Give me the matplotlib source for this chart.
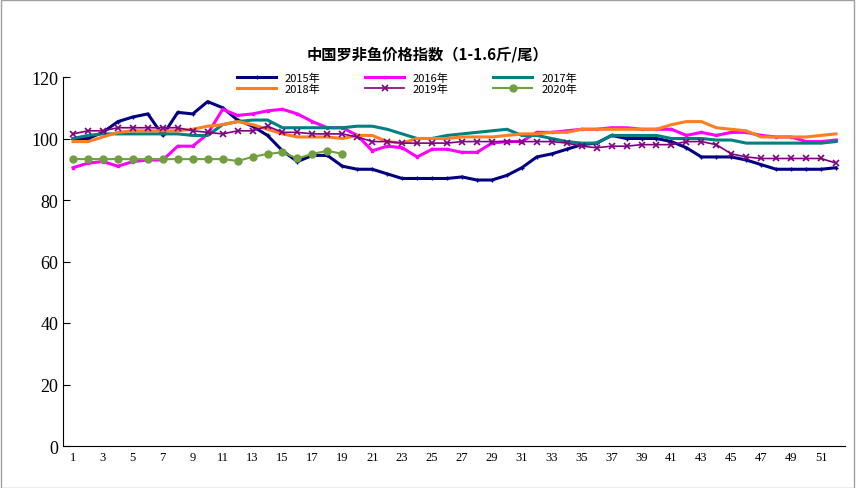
import matplotlib
matplotlib.use("Agg")
import matplotlib.pyplot as plt
import numpy as np

plt.rcParams["font.family"] = ["Noto Sans CJK SC", "Noto Sans CJK JP", "Noto Sans CJK TC", "Noto Sans CJK KR", "DejaVu Sans"]

weeks = list(range(1, 53))
y2015 = [100,100,102,105.5,107,108,101,108.5,108,112,110,106,104,101,96,92.5,94.5,94.5,91,90,90,88.5,87,87,87,87,87.5,86.5,86.5,88,90.5,94,95,96.5,98,98.5,101,100,100,100,99,97,94,94,94,93,91.5,90,90,90,90,90.5]
y2016 = [90.5,92,92.5,91,92.5,93,93,97.5,97.5,101.5,109.5,107.5,108,109,109.5,108,105.5,103.5,103.5,101,96,97.5,97,94,96.5,96.5,95.5,95.5,98.5,99,99,102,102,102.5,103,103,103.5,103.5,103,103,103,101,102,101,102,102,101,100.5,100.5,99,99,99.5]
y2017 = [100,101,101.5,101.5,101.5,101.5,101.5,101.5,101,101,104.5,105.5,106,106,103.5,103.5,103.5,103.5,103.5,104,104,103,101.5,100,100,101,101.5,102,102.5,103,101,101,100,99,98.5,98.5,101,101,101,101,100,100,100,99.5,99.5,98.5,98.5,98.5,98.5,98.5,98.5,99]
y2018 = [99,99,100.5,102,102.5,102.5,102.5,102.5,103,104,104.5,105.5,104.5,103,101.5,100.5,100.5,100.5,100,101,101,99,98.5,100,100,100,100.5,100.5,100.5,101,101.5,101.5,102,102,103,103,103,103,103,103,104.5,105.5,105.5,103.5,103,102.5,100.5,100.5,100.5,100.5,101,101.5]
y2019 = [101.5,102.5,102.5,103.5,103.5,103.5,103.5,103.5,102.5,102,101.5,102.5,102.5,104,102,102,101.5,101.5,101.5,100.5,99,99,98.5,98.5,98.5,98.5,99,99,99,99,99,99,99,98.5,97.5,97,97.5,97.5,98,98,98,99,99,98,95,94,93.5,93.5,93.5,93.5,93.5,92]
y2020 = [93.3,93.3,93.3,93.3,93.3,93.3,93.3,93.3,93.3,93.3,93.3,92.7,94,95,95.5,93.5,95,96,95]
xticks = list(range(1, 52, 2))
yticks = [0, 20, 40, 60, 80, 100, 120]

fig = plt.figure(figsize=(8.56, 4.89), dpi=100)
fig.patches.append(plt.Rectangle((0.001, 0.001), 0.997, 0.997, transform=fig.transFigure,
                                 fill=False, edgecolor="#a0a0a0", linewidth=1))
ax = fig.add_axes([63/856, 1-447/489, (845-63)/856, (447-78)/489])
w = np.array(weeks)
h15, = ax.plot(w, y2015, color="#000080", lw=2.2, marker="+", ms=3, label="2015年")
h16, = ax.plot(w, y2016, color="#FF00FF", lw=2.2, marker="s", ms=2, label="2016年")
h17, = ax.plot(w, y2017, color="#008080", lw=2.2, label="2017年")
h18, = ax.plot(w, y2018, color="#FF7F1F", lw=2.2, label="2018年")
h19, = ax.plot(w, y2019, color="#800080", lw=1.2, marker="x", ms=5, mew=1.2, label="2019年")
h20, = ax.plot(np.arange(1, len(y2020)+1), y2020, color="#70A040", lw=1.5, marker="o", ms=5, label="2020年")
ax.set_xlim(0.33, 52.6)
ax.set_ylim(0, 120)
ax.set_xticks(xticks)
ax.set_yticks(yticks)
ax.tick_params(axis="y", labelsize=13, direction="in", length=5)
ax.tick_params(axis="x", labelsize=9, length=0)
for t in ax.get_yticklabels():
    t.set_fontfamily("Liberation Serif")
for t in ax.get_xticklabels():
    t.set_fontfamily("Liberation Serif")
for s in ["top", "right"]:
    ax.spines[s].set_visible(False)
hs = [h15, h18, h16, h19, h17, h20]
ax.legend(hs, [h.get_label() for h in hs], loc="upper center", bbox_to_anchor=(0.44, 1.04), ncol=3,
          frameon=False, fontsize=8, handlelength=3.5, columnspacing=4, labelspacing=0.1)
fig.text(0.5, 1-55/489, "中国罗非鱼价格指数（1-1.6斤/尾）", ha="center", va="center",
         fontsize=11, fontweight="bold")
fig.savefig("out.png", dpi=100)
